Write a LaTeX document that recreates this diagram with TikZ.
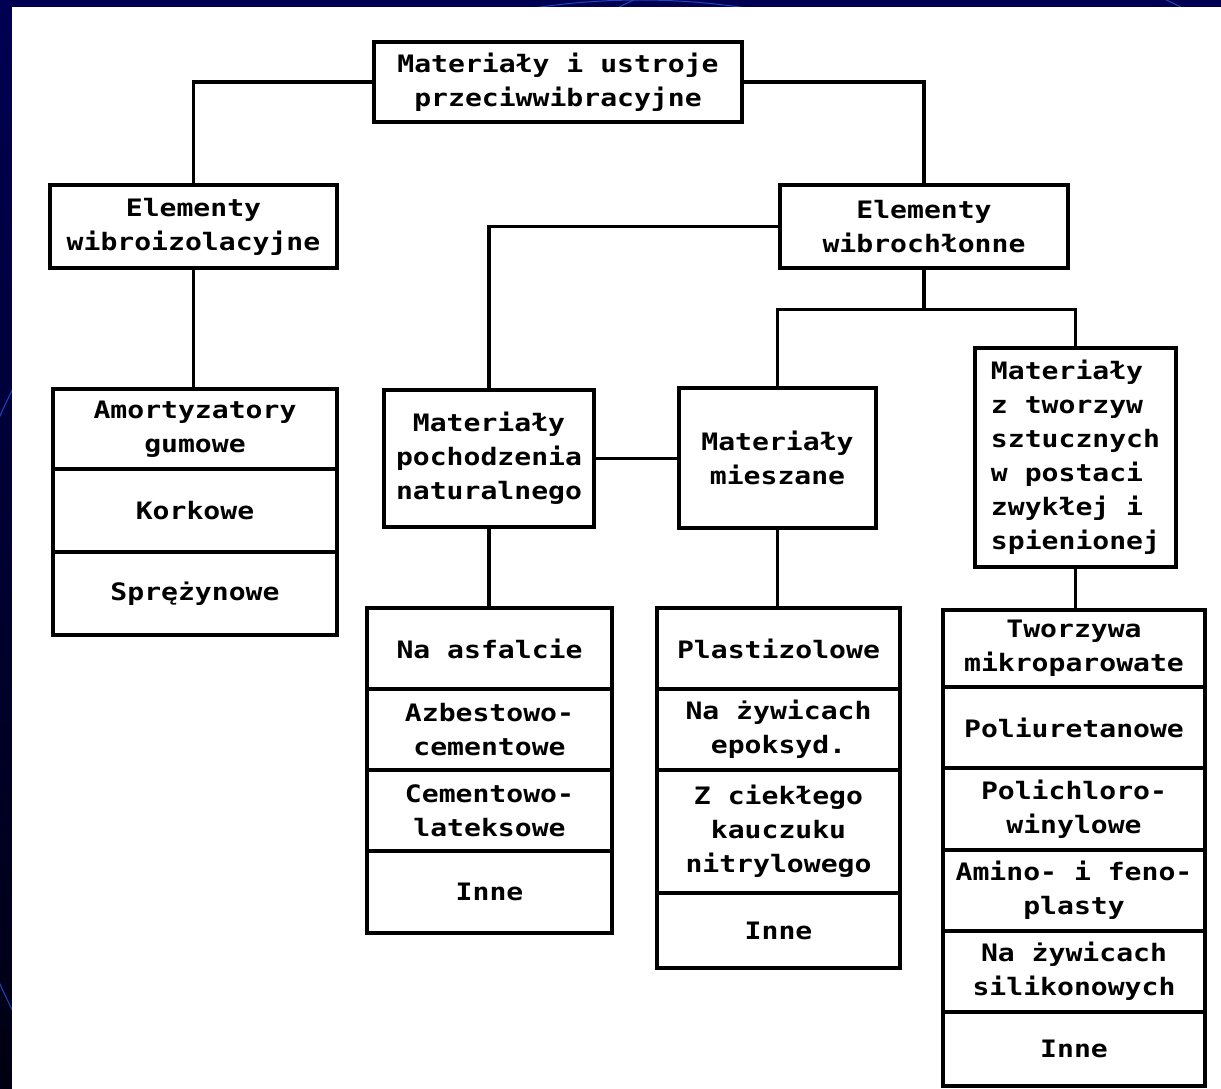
\documentclass[tikz,border=0pt]{standalone}
\usepackage{fontspec}
\newfontfamily\tw[FakeStretch=1.17]{DejaVu Sans Mono Bold}
\definecolor{navytop}{RGB}{0,0,82}
\definecolor{navybot}{RGB}{0,0,18}
\definecolor{arcblue}{RGB}{30,70,190}
\begin{document}
\begin{tikzpicture}[x=1pt,y=-1pt,
  box/.style={draw, line width=4.2pt, inner sep=0pt, align=center,
    font=\tw\fontsize{24}{34}\selectfont},
  lbox/.style={box, align=left},
  conn/.style={line width=3.2pt}]
\useasboundingbox (0,0) rectangle (1221,1089);
% background slide and paper
\shade[top color=navytop, bottom color=navybot] (0,0) rectangle (1221,1089);
\begin{scope}
  \clip (0,0) rectangle (1221,7) (0,0) rectangle (12,1089);
  \draw[arcblue, line width=1pt] (640,700) circle (700);
  \draw[arcblue, line width=1pt] (900,560) circle (620);
\end{scope}
\fill[white] (12,7) rectangle (1221,1089);

% top level
\node[box, minimum width=368, minimum height=80] (top) at (558,82)
  {Materiały i ustroje\\przeciwwibracyjne};
\node[box, minimum width=287, minimum height=83] (wibroiz) at (193.5,226.5)
  {Elementy\\wibroizolacyjne};
\node[box, minimum width=288, minimum height=83] (wibroch) at (924,226.5)
  {Elementy\\wibrochłonne};

% left stack
\node[box, minimum width=284, minimum height=80] (a1) at (195,429)
  {Amortyzatory\\gumowe};
\node[box, minimum width=284, minimum height=83] (a2) at (195,510.5)
  {Korkowe};
\node[box, minimum width=284, minimum height=83] (a3) at (195,593.5)
  {Sprężynowe};

% second level of wibrochlonne
\node[box, minimum width=210, minimum height=137] (poch) at (489,458.5)
  {Materiały\\pochodzenia\\naturalnego};
\node[box, minimum width=197, minimum height=140] (mies) at (777.5,458)
  {Materiały\\mieszane};
\node[lbox, minimum width=201, minimum height=219] (tw) at (1075.5,457.5)
  {Materiały\\z tworzyw\\sztucznych\\w postaci\\zwykłej i\\spienionej};

% stack 1
\node[box, minimum width=245, minimum height=81] (s1a) at (489.5,648.5) {Na asfalcie};
\node[box, minimum width=245, minimum height=81] (s1b) at (489.5,729.5) {Azbestowo-\\cementowe};
\node[box, minimum width=245, minimum height=81] (s1c) at (489.5,810.5) {Cementowo-\\lateksowe};
\node[box, minimum width=245, minimum height=82] (s1d) at (489.5,892) {Inne};

% stack 2
\node[box, minimum width=243, minimum height=81] (s2a) at (778.5,648.5) {Plastizolowe};
\node[box, minimum width=243, minimum height=81] (s2b) at (778.5,729.5) {Na żywicach\\epoksyd.};
\node[box, minimum width=243, minimum height=123] (s2c) at (778.5,831.5) {Z ciekłego\\kauczuku\\nitrylowego};
\node[box, minimum width=243, minimum height=75] (s2d) at (778.5,930.5) {Inne};

% stack 3
\node[box, minimum width=262, minimum height=77] (s3a) at (1074,648.5) {Tworzywa\\mikroparowate};
\node[box, minimum width=262, minimum height=81] (s3b) at (1074,727.5) {Poliuretanowe};
\node[box, minimum width=262, minimum height=82] (s3c) at (1074,809) {Polichloro-\\winylowe};
\node[box, minimum width=262, minimum height=81] (s3d) at (1074,890.5) {Amino- i feno-\\plasty};
\node[box, minimum width=262, minimum height=81] (s3e) at (1074,971.5) {Na żywicach\\silikonowych};
\node[box, minimum width=262, minimum height=74] (s3f) at (1074,1049) {Inne};

% connectors
\draw[conn] (top.west) -| (wibroiz.north);
\draw[conn] (top.east) -| (wibroch.north);
\draw[conn] (wibroiz.south) -- (wibroiz.south |- a1.north);
\draw[conn] (wibroch.west) -| (poch.north);
\path (wibroch.south) ++(0,39) coordinate (br);
\draw[conn] (wibroch.south) -- (br);
\draw[conn] (mies.north) |- (br) -| (tw.north);
\draw[conn] (poch.east) -- (poch.east -| mies.west);
\draw[conn] (poch.south) -- (poch.south |- s1a.north);
\draw[conn] (mies.south) -- (mies.south |- s2a.north);
\draw[conn] (tw.south) -- (tw.south |- s3a.north);
\end{tikzpicture}
\end{document}
